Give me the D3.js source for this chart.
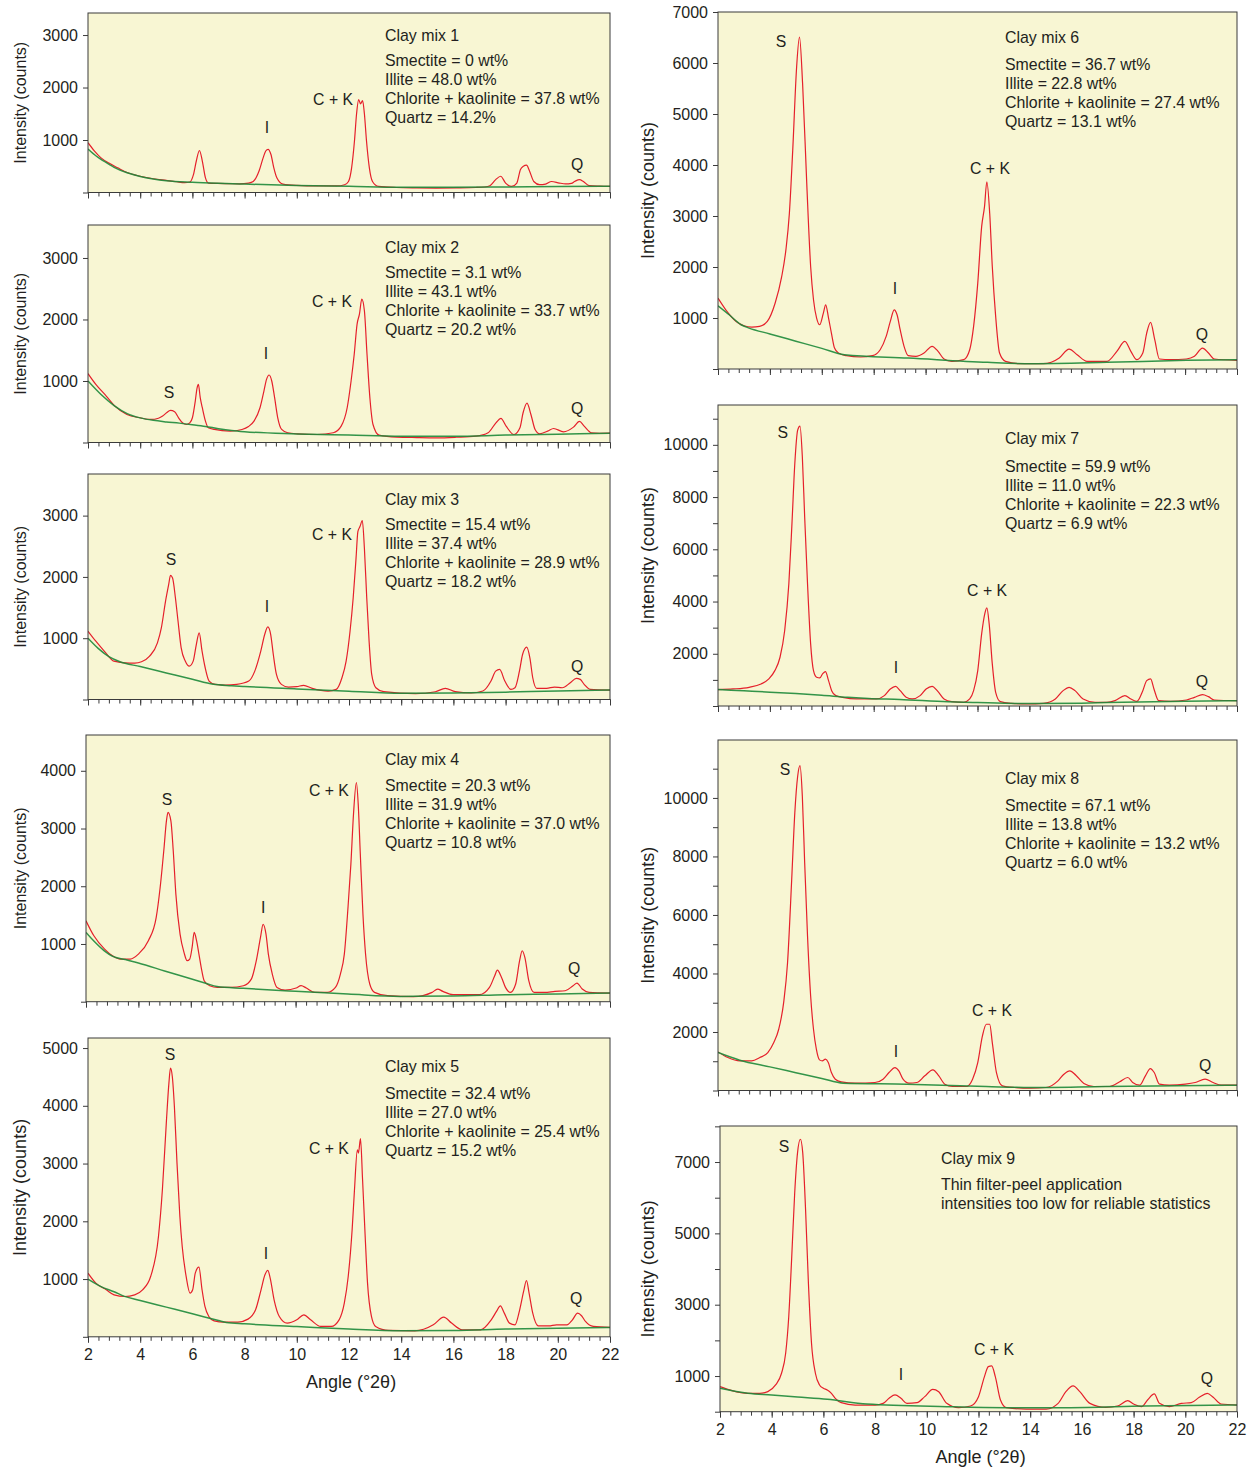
<!DOCTYPE html>
<html>
<head>
<meta charset="utf-8">
<script src="https://cdn.jsdelivr.net/npm/d3@7"></script>
<style>
  body { margin: 0; background: #ffffff; }
  svg text { font-family: "Liberation Sans", Arial, Helvetica, sans-serif; fill: #231f20; }
</style>
</head>
<body>
<svg id="chart" width="1253" height="1473"></svg>
<script>
// ---------- data: diffraction angle axis ----------
const angleDomain = [2, 22];
const angleLabels = [2, 4, 6, 8, 10, 12, 14, 16, 18, 20, 22];

// ---------- Clay mix 1 ----------
const mix1Name = "Clay mix 1";
const mix1Notes = ["Smectite = 0 wt%", "Illite = 48.0 wt%", "Chlorite + kaolinite = 37.8 wt%", "Quartz = 14.2%"];
const mix1YLabels = [1000, 2000, 3000];
const mix1YMinor = [0];
const mix1Trace = [[2,950],[2.25,790],[2.5,660],[2.8,560],[3.14,470],[3.5,380],[4,310],[4.5,262],[5,230],[5.4,205],[5.7,190],[5.9,200],[6.04,340],[6.15,600],[6.27,800],[6.38,600],[6.5,280],[6.62,180],[6.95,172],[7.4,168],[7.8,165],[8.15,180],[8.33,210],[8.55,405],[8.71,660],[8.81,790],[8.9,823],[9.01,725],[9.12,470],[9.24,275],[9.47,160],[10,135],[10.77,125],[11.53,125],[11.83,148],[11.98,210],[12.1,470],[12.21,985],[12.29,1500],[12.37,1770],[12.44,1690],[12.52,1750],[12.59,1500],[12.67,985],[12.78,470],[12.9,210],[13.13,115],[13.81,95],[14.6,88],[15.34,85],[16.1,88],[16.86,95],[17.2,105],[17.4,130],[17.62,245],[17.81,310],[18,180],[18.23,115],[18.43,180],[18.57,440],[18.68,500],[18.8,520],[18.92,405],[19.08,210],[19.3,150],[19.53,160],[19.76,210],[20.06,180],[20.3,165],[20.52,175],[20.66,215],[20.83,245],[20.98,210],[21.2,130],[21.6,120],[22,115]];
const mix1Background = [[2,830],[2.3,700],[2.6,600],[3,480],[3.5,375],[4,305],[4.5,258],[5,225],[6,195],[7,175],[8,160],[10,135],[12,118],[14,100],[16,98],[18,105],[20,115],[22,120]];

// ---------- Clay mix 2 ----------
const mix2Name = "Clay mix 2";
const mix2Notes = ["Smectite = 3.1 wt%", "Illite = 43.1 wt%", "Chlorite + kaolinite = 33.7 wt%", "Quartz = 20.2 wt%"];
const mix2YLabels = [1000, 2000, 3000];
const mix2YMinor = [0];
const mix2Trace = [[2,1120],[2.3,945],[2.7,755],[3.03,592],[3.49,456],[3.99,402],[4.4,375],[4.7,395],[4.86,430],[5.01,484],[5.16,522],[5.32,500],[5.47,400],[5.62,320],[5.77,293],[5.9,320],[6.0,402],[6.11,674],[6.18,890],[6.23,945],[6.3,728],[6.38,565],[6.5,348],[6.61,240],[6.84,212],[7.44,185],[7.9,212],[8.15,260],[8.36,348],[8.59,565],[8.74,837],[8.84,1027],[8.94,1097],[9.04,1000],[9.15,728],[9.27,402],[9.42,212],[9.65,158],[10.03,141],[10.79,130],[11.4,158],[11.7,266],[11.93,565],[12.08,1000],[12.2,1435],[12.31,1924],[12.4,2087],[12.49,2330],[12.59,2141],[12.69,1435],[12.8,728],[12.92,293],[13.15,120],[13.83,87],[14.6,80],[15.35,76],[16.1,85],[16.87,103],[17.33,158],[17.63,320],[17.82,391],[18.02,266],[18.32,130],[18.55,240],[18.67,484],[18.82,641],[18.97,456],[19.13,212],[19.31,141],[19.61,185],[19.84,228],[20.22,174],[20.6,250],[20.83,342],[21.01,266],[21.29,158],[21.6,150],[22,152]];
const mix2Background = [[2,1000],[2.5,780],[3,600],[3.5,470],[4,400],[4.5,360],[5,335],[5.5,315],[6,290],[6.5,262],[7,225],[7.5,195],[8,175],[10,140],[12,120],[14,100],[16,100],[18,120],[20,135],[22,150]];

// ---------- Clay mix 3 ----------
const mix3Name = "Clay mix 3";
const mix3Notes = ["Smectite = 15.4 wt%", "Illite = 37.4 wt%", "Chlorite + kaolinite = 28.9 wt%", "Quartz = 18.2 wt%"];
const mix3YLabels = [1000, 2000, 3000];
const mix3YMinor = [0];
const mix3Trace = [[2,1114],[2.3,951],[2.68,762],[2.99,626],[3.41,599],[3.79,595],[4.05,615],[4.36,707],[4.66,924],[4.81,1168],[4.97,1602],[5.09,1873],[5.16,2024],[5.24,1981],[5.35,1656],[5.45,1276],[5.57,843],[5.73,626],[5.88,545],[6.03,626],[6.15,897],[6.26,1087],[6.37,789],[6.49,518],[6.64,301],[6.87,247],[7.25,236],[7.7,247],[8.16,301],[8.39,463],[8.62,789],[8.77,1060],[8.89,1184],[9.0,1060],[9.1,734],[9.22,409],[9.41,247],[9.68,203],[10.0,210],[10.26,230],[10.59,182],[11.2,138],[11.51,165],[11.73,355],[11.89,626],[12.04,1114],[12.16,1656],[12.27,2306],[12.34,2740],[12.42,2821],[12.51,2920],[12.59,2469],[12.68,1656],[12.77,951],[12.87,409],[13.03,192],[13.33,127],[14.55,95],[15.31,127],[15.69,182],[16.07,127],[16.68,106],[17.13,138],[17.44,301],[17.62,463],[17.77,490],[17.97,301],[18.2,165],[18.36,192],[18.53,463],[18.65,734],[18.81,854],[18.93,680],[19.04,355],[19.19,182],[19.57,182],[19.87,203],[20.17,192],[20.48,274],[20.71,344],[20.86,328],[21.01,247],[21.24,165],[22,154]];
const mix3Background = [[2,1000],[2.4,830],[2.8,700],[3.2,620],[4,537],[5,433],[6,329],[6.8,248],[7.5,225],[8,212],[10,172],[12,135],[14,100],[16,105],[18,120],[20,140],[22,154]];

// ---------- Clay mix 4 ----------
const mix4Name = "Clay mix 4";
const mix4Notes = ["Smectite = 20.3 wt%", "Illite = 31.9 wt%", "Chlorite + kaolinite = 37.0 wt%", "Quartz = 10.8 wt%"];
const mix4YLabels = [1000, 2000, 3000, 4000];
const mix4YMinor = [0];
const mix4Trace = [[2,1402],[2.3,1142],[2.71,912],[3.01,796],[3.32,739],[3.69,739],[4.0,825],[4.38,1056],[4.68,1460],[4.83,1979],[4.98,2672],[5.07,3133],[5.13,3278],[5.24,3133],[5.33,2614],[5.43,1864],[5.59,1171],[5.74,854],[5.86,710],[5.96,739],[6.05,941],[6.13,1200],[6.22,1056],[6.31,825],[6.42,537],[6.51,364],[6.72,277],[7.02,248],[7.52,248],[8.01,277],[8.31,392],[8.5,710],[8.66,1114],[8.76,1340],[8.87,1171],[8.96,825],[9.11,479],[9.29,248],[9.6,202],[10.02,237],[10.21,277],[10.41,237],[10.73,162],[11.21,162],[11.52,248],[11.71,479],[11.86,825],[12.0,1633],[12.11,2383],[12.21,3249],[12.32,3797],[12.39,3422],[12.47,2556],[12.57,1518],[12.67,825],[12.83,306],[13.01,162],[13.51,104],[14.51,87],[15.21,162],[15.42,219],[15.62,179],[16.01,121],[17.01,121],[17.4,248],[17.6,450],[17.7,548],[17.86,421],[18.01,248],[18.2,162],[18.4,306],[18.55,710],[18.65,883],[18.75,767],[18.9,364],[19.1,162],[19.5,162],[19.9,179],[20.29,190],[20.59,277],[20.74,323],[20.94,219],[21.2,162],[22,150]];
const mix4Background = [[2,1200],[2.3,1050],[2.7,880],[3.0,790],[3.5,730],[4,670],[5,533],[6,397],[6.6,315],[7.0,262],[8,231],[10,179],[12,133],[14,92],[16,98],[18,121],[20,133],[22,150]];

// ---------- Clay mix 5 ----------
const mix5Name = "Clay mix 5";
const mix5Notes = ["Smectite = 32.4 wt%", "Illite = 27.0 wt%", "Chlorite + kaolinite = 25.4 wt%", "Quartz = 15.2 wt%"];
const mix5YLabels = [1000, 2000, 3000, 4000, 5000];
const mix5YMinor = [0];
const mix5Trace = [[2,1102],[2.3,929],[2.7,814],[3.0,727],[3.41,698],[3.79,727],[4.09,814],[4.4,1045],[4.7,1737],[4.85,2545],[5.0,3700],[5.1,4392],[5.16,4652],[5.23,4508],[5.31,3988],[5.41,3007],[5.52,2084],[5.61,1564],[5.76,1045],[5.91,756],[6.01,814],[6.11,1102],[6.25,1206],[6.37,814],[6.48,525],[6.63,352],[6.83,277],[7.22,254],[7.74,254],[8.13,306],[8.42,468],[8.63,814],[8.78,1074],[8.89,1149],[8.98,1016],[9.13,641],[9.33,352],[9.63,237],[10.0,294],[10.27,381],[10.53,294],[10.92,179],[11.32,179],[11.62,294],[11.82,583],[11.97,1045],[12.12,1853],[12.21,2545],[12.32,3238],[12.36,3180],[12.44,3430],[12.52,2719],[12.62,1737],[12.71,929],[12.86,352],[13.02,179],[13.52,110],[14.52,104],[15.23,208],[15.63,341],[15.93,237],[16.34,121],[17.04,121],[17.45,294],[17.65,439],[17.8,537],[17.95,410],[18.15,237],[18.36,208],[18.54,468],[18.69,785],[18.8,975],[18.9,756],[19.04,410],[19.25,190],[19.65,190],[19.95,208],[20.35,208],[20.56,294],[20.76,410],[20.91,364],[21.06,266],[21.36,179],[22,162]];
const mix5Background = [[2,1000],[2.5,870],[3,780],[3.4,700],[4,630],[5,514],[6,398],[7,283],[7.3,248],[8,225],[10,179],[12,133],[14,104],[16,110],[18,133],[20,150],[22,162]];

// ---------- Clay mix 6 ----------
const mix6Name = "Clay mix 6";
const mix6Notes = ["Smectite = 36.7 wt%", "Illite = 22.8 wt%", "Chlorite + kaolinite = 27.4 wt%", "Quartz = 13.1 wt%"];
const mix6YLabels = [1000, 2000, 3000, 4000, 5000, 6000, 7000];
const mix6YMinor = [0];
const mix6Trace = [[2,1389],[2.3,1161],[2.7,933],[3.0,848],[3.3,822],[3.6,835],[3.9,933],[4.2,1290],[4.45,1800],[4.62,2350],[4.75,3050],[4.88,4292],[5.03,5923],[5.14,6510],[5.26,5597],[5.42,3640],[5.57,2009],[5.68,1357],[5.8,998],[5.92,868],[6.06,1096],[6.15,1259],[6.26,998],[6.37,705],[6.49,411],[6.64,313],[6.95,261],[7.49,235],[7.95,261],[8.25,378],[8.48,639],[8.64,933],[8.79,1161],[8.9,1063],[9.02,770],[9.17,444],[9.33,261],[9.63,248],[9.94,313],[10.25,444],[10.48,346],[10.71,196],[11.01,150],[11.47,183],[11.7,378],[11.85,835],[12.01,1683],[12.16,2792],[12.27,3183],[12.36,3672],[12.47,3053],[12.57,2009],[12.7,1031],[12.85,313],[13.08,150],[13.62,104],[14.54,104],[15.15,215],[15.53,391],[15.84,280],[16.22,150],[16.99,150],[17.37,346],[17.68,541],[17.91,346],[18.14,183],[18.37,313],[18.52,705],[18.67,913],[18.83,574],[19.01,196],[19.44,183],[20.05,196],[20.36,248],[20.67,411],[20.9,313],[21.13,196],[22,170]];
const mix6Background = [[2,1239],[2.43,1063],[2.89,868],[3.2,802],[4,688],[5,546],[6,404],[6.87,280],[9.33,215],[12.39,130],[14.08,104],[16.99,130],[20.05,170],[22,183]];

// ---------- Clay mix 7 ----------
const mix7Name = "Clay mix 7";
const mix7Notes = ["Smectite = 59.9 wt%", "Illite = 11.0 wt%", "Chlorite + kaolinite = 22.3 wt%", "Quartz = 6.9 wt%"];
const mix7YLabels = [2000, 4000, 6000, 8000, 10000];
const mix7YMinor = [0, 1000, 3000, 5000, 7000, 9000, 11000];
const mix7Trace = [[2,627],[2.58,652],[3.2,716],[3.66,844],[3.96,1036],[4.19,1355],[4.39,1867],[4.57,2890],[4.73,4680],[4.85,6982],[4.96,9284],[5.07,10563],[5.16,10716],[5.25,9540],[5.34,7238],[5.45,4680],[5.57,2379],[5.68,1355],[5.8,1100],[5.92,1074],[6.03,1228],[6.14,1317],[6.26,972],[6.38,588],[6.54,396],[6.8,332],[7.33,269],[8.1,269],[8.41,396],[8.64,652],[8.84,754],[9.02,588],[9.25,332],[9.48,269],[9.79,396],[10.02,652],[10.25,754],[10.48,550],[10.71,269],[11.01,166],[11.47,141],[11.7,269],[11.85,588],[12.01,1355],[12.16,2762],[12.28,3529],[12.36,3760],[12.45,3146],[12.57,1611],[12.7,524],[12.88,166],[13.31,102],[13.92,77],[14.54,102],[15.0,269],[15.3,588],[15.53,716],[15.76,588],[16.07,269],[16.53,141],[16.99,141],[17.3,205],[17.68,396],[17.91,269],[18.14,179],[18.37,588],[18.52,972],[18.67,1036],[18.8,652],[18.98,205],[19.44,179],[20.05,230],[20.36,332],[20.67,435],[20.9,358],[21.13,230],[22,205]];
const mix7Background = [[2,630],[3,580],[4,530],[5,475],[6,410],[7,335],[7.8,290],[9,250],[10.86,160],[12,130],[13.92,95],[16,110],[17,130],[20,180],[22,205]];

// ---------- Clay mix 8 ----------
const mix8Name = "Clay mix 8";
const mix8Notes = ["Smectite = 67.1 wt%", "Illite = 13.8 wt%", "Chlorite + kaolinite = 13.2 wt%", "Quartz = 6.0 wt%"];
const mix8YLabels = [2000, 4000, 6000, 8000, 10000];
const mix8YMinor = [0, 1000, 3000, 5000, 7000, 9000, 11000];
const mix8Trace = [[2,1320],[2.38,1126],[2.84,1013],[3.3,1013],[3.61,1126],[3.92,1297],[4.15,1638],[4.34,2093],[4.53,3003],[4.68,4369],[4.84,7213],[4.96,9488],[5.07,10740],[5.16,11103],[5.25,10057],[5.34,7782],[5.45,5279],[5.57,3231],[5.68,2093],[5.79,1411],[5.91,1047],[6.02,1013],[6.14,1069],[6.25,956],[6.37,614],[6.52,387],[6.75,296],[7.29,250],[8.05,273],[8.36,387],[8.59,614],[8.82,785],[8.97,671],[9.13,387],[9.36,250],[9.66,273],[9.97,501],[10.28,705],[10.51,501],[10.74,216],[11.04,137],[11.58,137],[11.81,387],[12.01,956],[12.19,1866],[12.34,2264],[12.47,2264],[12.57,1638],[12.73,614],[12.96,159],[13.42,102],[14.03,80],[14.64,102],[15.1,330],[15.33,557],[15.56,671],[15.79,523],[16.1,239],[16.48,137],[17.1,137],[17.48,296],[17.79,444],[17.98,273],[18.25,182],[18.47,501],[18.66,751],[18.81,614],[19.01,216],[19.39,182],[20.01,216],[20.39,273],[20.77,387],[21.08,273],[21.39,182],[22,182]];
const mix8Background = [[2,1297],[2.84,1035],[4,807],[5,610],[6,413],[6.83,250],[9.28,216],[12.34,137],[14.03,102],[16.94,137],[22,182]];

// ---------- Clay mix 9 ----------
const mix9Name = "Clay mix 9";
const mix9Notes = ["Thin filter-peel application", "intensities too low for reliable statistics"];
const mix9YLabels = [1000, 3000, 5000, 7000];
const mix9YMinor = [0, 2000, 4000, 6000, 8000];
const mix9Trace = [[2,703],[2.46,590],[3.08,515],[3.54,515],[3.85,562],[4.15,750],[4.38,1078],[4.54,1640],[4.66,2671],[4.77,4264],[4.89,6139],[5.0,7263],[5.11,7638],[5.2,7263],[5.31,5670],[5.42,3608],[5.54,1921],[5.69,1078],[5.85,750],[6.0,656],[6.15,609],[6.31,515],[6.46,375],[6.69,253],[7.23,187],[8.0,187],[8.31,234],[8.54,375],[8.77,469],[9.0,375],[9.23,234],[9.62,253],[9.92,422],[10.23,628],[10.46,562],[10.77,234],[11.23,112],[11.69,159],[12.0,422],[12.23,984],[12.38,1265],[12.51,1284],[12.65,984],[12.85,328],[13.08,112],[13.85,75],[14.62,75],[15.08,234],[15.38,562],[15.66,722],[15.92,562],[16.31,234],[16.92,122],[17.38,159],[17.77,309],[18.0,216],[18.31,141],[18.54,328],[18.8,497],[19.0,234],[19.38,141],[19.85,234],[20.23,253],[20.54,403],[20.85,515],[21.08,403],[21.38,216],[22,187]];
const mix9Background = [[2,656],[3.08,515],[4,465],[5,410],[6.15,347],[7.69,216],[10.77,141],[13.08,112],[15.38,112],[18.46,159],[22,187]];

const panels = [
  { name: mix1Name, notes: mix1Notes, yLabels: mix1YLabels, yMinor: mix1YMinor, trace: mix1Trace, base: mix1Background },
  { name: mix2Name, notes: mix2Notes, yLabels: mix2YLabels, yMinor: mix2YMinor, trace: mix2Trace, base: mix2Background },
  { name: mix3Name, notes: mix3Notes, yLabels: mix3YLabels, yMinor: mix3YMinor, trace: mix3Trace, base: mix3Background },
  { name: mix4Name, notes: mix4Notes, yLabels: mix4YLabels, yMinor: mix4YMinor, trace: mix4Trace, base: mix4Background },
  { name: mix5Name, notes: mix5Notes, yLabels: mix5YLabels, yMinor: mix5YMinor, trace: mix5Trace, base: mix5Background },
  { name: mix6Name, notes: mix6Notes, yLabels: mix6YLabels, yMinor: mix6YMinor, trace: mix6Trace, base: mix6Background },
  { name: mix7Name, notes: mix7Notes, yLabels: mix7YLabels, yMinor: mix7YMinor, trace: mix7Trace, base: mix7Background },
  { name: mix8Name, notes: mix8Notes, yLabels: mix8YLabels, yMinor: mix8YMinor, trace: mix8Trace, base: mix8Background },
  { name: mix9Name, notes: mix9Notes, yLabels: mix9YLabels, yMinor: mix9YMinor, trace: mix9Trace, base: mix9Background }
];

// ---------- layout: plot boxes, text placement, peak tags (in data units) ----------
const layout = [
  { x0: 88, x1: 610, y0: 13,   y1: 192.5,  yMax: 3420,  axisTitleX: 20,  titleSize: 16, noteX: 385, titleY: 35,   noteY: 60,   tickLabels: false,
    tags: [["I", 8.86, 1229], ["C + K", 11.39, 1781], ["Q", 20.74, 524]] },
  { x0: 88, x1: 610, y0: 225,  y1: 442.5,  yMax: 3536,  axisTitleX: 20,  titleSize: 16, noteX: 385, titleY: 247,  noteY: 272,  tickLabels: false,
    tags: [["S", 5.10, 805], ["I", 8.82, 1439], ["C + K", 11.35, 2285], ["Q", 20.74, 545]] },
  { x0: 88, x1: 610, y0: 474,  y1: 699.5,  yMax: 3679,  axisTitleX: 20,  titleSize: 16, noteX: 385, titleY: 499,  noteY: 524,  tickLabels: false,
    tags: [["S", 5.18, 2276], ["I", 8.86, 1525], ["C + K", 11.35, 2700], ["Q", 20.74, 546]] },
  { x0: 86, x1: 610, y0: 735,  y1: 1001.7, yMax: 4620,  axisTitleX: 20,  titleSize: 16, noteX: 385, titleY: 759,  noteY: 785,  tickLabels: false,
    tags: [["S", 5.09, 3496], ["I", 8.76, 1624], ["C + K", 11.27, 3652], ["Q", 20.63, 567]] },
  { x0: 88, x1: 610, y0: 1038, y1: 1336.8, yMax: 5174,  axisTitleX: 20,  titleSize: 18, noteX: 385, titleY: 1066, noteY: 1093, tickLabels: true,
    tags: [["S", 5.14, 4880], ["I", 8.82, 1434], ["C + K", 11.23, 3269], ["Q", 20.70, 655]] },
  { x0: 718, x1: 1237, y0: 12,  y1: 369,    yMax: 7000,  axisTitleX: 648, titleSize: 18, noteX: 1005, titleY: 37,  noteY: 64,   tickLabels: false,
    tags: [["S", 4.43, 6412], ["I", 8.82, 1588], ["C + K", 12.48, 3941], ["Q", 20.65, 667]] },
  { x0: 718, x1: 1237, y0: 405, y1: 706,    yMax: 11525, axisTitleX: 648, titleSize: 18, noteX: 1005, titleY: 438, noteY: 466,  tickLabels: false,
    tags: [["S", 4.50, 10490], ["I", 8.86, 1455], ["C + K", 12.37, 4441], ["Q", 20.65, 957]] },
  { x0: 718, x1: 1237, y0: 740, y1: 1090.5, yMax: 11980, axisTitleX: 648, titleSize: 18, noteX: 1005, titleY: 778, noteY: 805,  tickLabels: false,
    tags: [["S", 4.58, 10957], ["I", 8.86, 1350], ["C + K", 12.56, 2718], ["Q", 20.77, 838]] },
  { x0: 720, x1: 1237, y0: 1126, y1: 1411.7, yMax: 8010, axisTitleX: 648, titleSize: 18, noteX: 941, titleY: 1158, noteY: 1184, tickLabels: true,
    tags: [["S", 4.48, 7424], ["I", 9.0, 1029], ["C + K", 12.6, 1730], ["Q", 20.84, 918]] }
];

const COLORS = { plotBg: "#f8f6d3", trace: "#e5202b", base: "#1d8a3a", frame: "#3b3b3b", text: "#231f20" };
const FONT = { tick: 16, note: 15.9, tag: 15.8, angleTitle: 18 };
const NOTE_STEP = 19.3;

const svg = d3.select("#chart");
const defs = svg.append("defs");

panels.forEach((p, i) => {
  const L = layout[i];
  const x = d3.scaleLinear().domain(angleDomain).range([L.x0, L.x1]);
  const y = d3.scaleLinear().domain([0, L.yMax]).range([L.y1, L.y0]);
  const g = svg.append("g").attr("class", "panel");

  const clipId = "plot-clip-" + i;
  defs.append("clipPath").attr("id", clipId)
    .append("rect").attr("x", L.x0).attr("y", L.y0)
    .attr("width", L.x1 - L.x0).attr("height", L.y1 - L.y0);

  g.append("rect")
    .attr("x", L.x0).attr("y", L.y0)
    .attr("width", L.x1 - L.x0).attr("height", L.y1 - L.y0)
    .attr("fill", COLORS.plotBg);

  const line = d3.line()
    .x(d => x(d[0]))
    .y(d => y(d[1]))
    .curve(d3.curveMonotoneX);

  const plot = g.append("g").attr("clip-path", `url(#${clipId})`);
  plot.append("path").datum(p.trace)
    .attr("d", line).attr("fill", "none")
    .attr("stroke", COLORS.trace).attr("stroke-width", 1.2).attr("stroke-linejoin", "round");
  plot.append("path").datum(p.base)
    .attr("d", line).attr("fill", "none")
    .attr("stroke", COLORS.base).attr("stroke-width", 1.5).attr("stroke-opacity", 0.9);

  // frame
  g.append("rect")
    .attr("x", L.x0).attr("y", L.y0)
    .attr("width", L.x1 - L.x0).attr("height", L.y1 - L.y0)
    .attr("fill", "none").attr("stroke", COLORS.frame).attr("stroke-width", 1);

  // y axis: labelled and unlabelled ticks
  const yMajor = d3.axisLeft(y).tickValues(p.yLabels).tickSize(5).tickPadding(5)
    .tickFormat(d3.format("d"));
  const yMinor = d3.axisLeft(y).tickValues(p.yMinor).tickSize(5).tickFormat("");
  [yMajor, yMinor].forEach(ax => {
    const a = g.append("g").attr("transform", `translate(${L.x0},0)`).call(ax);
    a.select(".domain").remove();
    a.selectAll("line").attr("stroke", COLORS.frame);
    a.selectAll("text").attr("font-size", FONT.tick).attr("fill", COLORS.text)
      .style("font-family", '"Liberation Sans", Arial, sans-serif');
  });

  // x axis
  const xMinor = d3.axisBottom(x).tickValues(d3.range(2, 22.001, 0.4)).tickSize(4).tickFormat("");
  const xMajor = d3.axisBottom(x).tickValues(angleLabels).tickSize(6).tickPadding(6)
    .tickFormat(L.tickLabels ? d3.format("d") : "");
  [xMinor, xMajor].forEach(ax => {
    const a = g.append("g").attr("transform", `translate(0,${L.y1})`).call(ax);
    a.select(".domain").remove();
    a.selectAll("line").attr("stroke", COLORS.frame);
    a.selectAll("text").attr("font-size", FONT.tick).attr("fill", COLORS.text)
      .style("font-family", '"Liberation Sans", Arial, sans-serif');
  });

  if (L.tickLabels) {
    g.append("text")
      .attr("x", (L.x0 + L.x1) / 2 + 2)
      .attr("y", L.y1 + 51)
      .attr("text-anchor", "middle")
      .attr("font-size", FONT.angleTitle)
      .text("Angle (°2θ)");
  }

  // y axis title
  g.append("text")
    .attr("transform", `translate(${L.axisTitleX},${(L.y0 + L.y1) / 2}) rotate(-90)`)
    .attr("text-anchor", "middle")
    .attr("dominant-baseline", "central")
    .attr("font-size", L.titleSize)
    .attr("fill", "#2b2b2b")
    .text("Intensity (counts)");

  // sample name and composition
  g.append("text")
    .attr("x", L.noteX).attr("y", L.titleY)
    .attr("dominant-baseline", "central")
    .attr("font-size", FONT.note)
    .text(p.name);
  g.selectAll("text.note").data(p.notes).join("text")
    .attr("class", "note")
    .attr("x", L.noteX)
    .attr("y", (d, k) => L.noteY + k * NOTE_STEP)
    .attr("dominant-baseline", "central")
    .attr("font-size", FONT.note)
    .text(d => d);

  // peak identifiers
  g.selectAll("text.tag").data(L.tags).join("text")
    .attr("class", "tag")
    .attr("x", d => x(d[1]))
    .attr("y", d => y(d[2]))
    .attr("text-anchor", "middle")
    .attr("dominant-baseline", "central")
    .attr("font-size", FONT.tag)
    .text(d => d[0]);
});
</script>
</body>
</html>
